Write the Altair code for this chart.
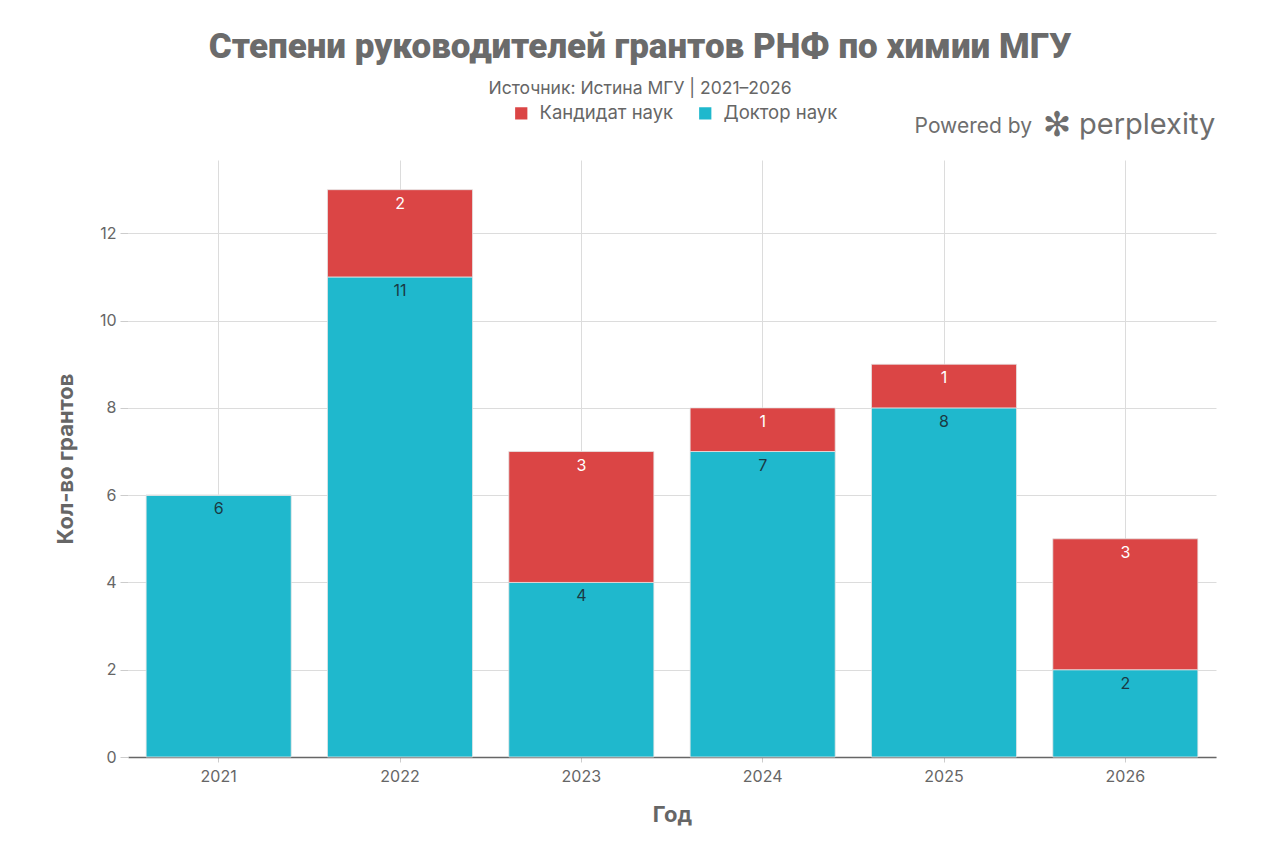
import altair as alt
import pandas as pd

years = ["2021", "2022", "2023", "2024", "2025", "2026"]
doctor = [6, 11, 4, 7, 8, 2]
candidate = [0, 2, 3, 1, 1, 3]
series_names = ["Кандидат наук", "Доктор наук"]
colors = ["#DB4545", "#1FB8CD"]

title_text = "Степени руководителей грантов РНФ по химии МГУ"
subtitle_text = "Источник: Истина МГУ | 2021–2026"

rows = []
for y, d, c in zip(years, doctor, candidate):
    rows.append({"year": y, "series": series_names[1], "value": d, "ord": 0,
                 "lab": "#1a3a44"})
    rows.append({"year": y, "series": series_names[0], "value": c, "ord": 1,
                 "lab": "#ffffff"})
df = pd.DataFrame(rows)

W, H = 1088, 597
FONT = "Inter"

base = alt.Chart(df).transform_stack(
    stack="value", groupby=["year"], as_=["v0", "v1"],
    sort=[alt.SortField("ord", order="ascending")]
)

xenc = alt.X("year:N", title="Год", sort=years,
             scale=alt.Scale(paddingInner=0.2, paddingOuter=0.1),
             axis=alt.Axis(labelAngle=0, grid=True, bandPosition=0.5,
                           gridColor="#dcdcdc", labelFontSize=16,
                           labelColor="#666666", labelFont=FONT,
                           labelPadding=6, tickSize=5, tickColor="#cccccc",
                           domainColor="#666666", domainWidth=1.5,
                           titleFontSize=22, titleFontWeight="bold",
                           titleColor="#666666", titleFont=FONT,
                           titlePadding=20))

bars = base.mark_bar(stroke="#e4e4e4", strokeWidth=0.8).encode(
    x=xenc,
    y=alt.Y("v1:Q", title="Кол-во грантов",
            scale=alt.Scale(domain=[0, 13.68], nice=False),
            axis=alt.Axis(values=[0, 2, 4, 6, 8, 10, 12], grid=True,
                          gridColor="#dcdcdc", domain=False, tickSize=8,
                          tickColor="#cccccc", labelFontSize=16,
                          labelColor="#666666", labelFont=FONT,
                          labelPadding=4,
                          titleFontSize=22, titleFontWeight="bold",
                          titleColor="#666666", titleFont=FONT,
                          titlePadding=22)),
    y2="v0:Q",
    color=alt.Color("series:N",
                    scale=alt.Scale(domain=series_names, range=colors),
                    legend=alt.Legend(title=None, orient="none",
                                      direction="horizontal",
                                      legendX=384, legendY=-56,
                                      symbolType="square", symbolSize=150,
                                      symbolStrokeWidth=0,
                                      labelFontSize=18.5, labelColor="#666666",
                                      labelFont=FONT, columnPadding=22,
                                      labelOffset=9)),
)

labels = base.transform_filter("datum.value > 0").mark_text(
    baseline="top", dy=6, fontSize=16, font=FONT
).encode(
    x=alt.X("year:N", sort=years),
    y="v1:Q",
    text="value:Q",
    color=alt.Color("lab:N", scale=None, legend=None),
)

tdf = pd.DataFrame({"t": [title_text]})
title = alt.Chart(tdf).mark_text(
    fontSize=35, fontWeight=900, font="Roboto", color="#6b6b6b",
    align="center", baseline="middle"
).encode(x=alt.value(640 - 128), y=alt.value(47 - 160), text="t:N")

sdf = pd.DataFrame({"t": [subtitle_text]})
subtitle = alt.Chart(sdf).mark_text(
    fontSize=17.5, font=FONT, color="#666666", align="center",
    baseline="middle"
).encode(x=alt.value(640 - 128), y=alt.value(89 - 160), text="t:N")

pdf1 = pd.DataFrame({"t": ["Powered by"]})
pw1 = alt.Chart(pdf1).mark_text(
    fontSize=21, font=FONT, color="#6e6e6e", align="right", baseline="middle"
).encode(x=alt.value(1032 - 128), y=alt.value(127 - 160), text="t:N")

pdf2 = pd.DataFrame({"t": ["✻"]})
pw2 = alt.Chart(pdf2).mark_text(
    fontSize=34, font="DejaVu Sans", color="#6e6e6e", align="center",
    baseline="middle"
).encode(x=alt.value(1057 - 128), y=alt.value(126 - 160), text="t:N")

pdf3 = pd.DataFrame({"t": ["perplexity"]})
pw3 = alt.Chart(pdf3).mark_text(
    fontSize=29, font=FONT, color="#6e6e6e", align="left", baseline="middle"
).encode(x=alt.value(1079 - 128), y=alt.value(125 - 160), text="t:N")

chart = alt.layer(bars, labels, title, subtitle, pw1, pw2, pw3).properties(
    width=W, height=H,
    autosize=alt.AutoSizeParams(type="none"),
    padding={"left": 120, "top": 152, "right": 48, "bottom": 80},
    background="white",
).configure_view(stroke=None)

chart.save("out.html", embed_options={"renderer": "svg", "actions": False})
